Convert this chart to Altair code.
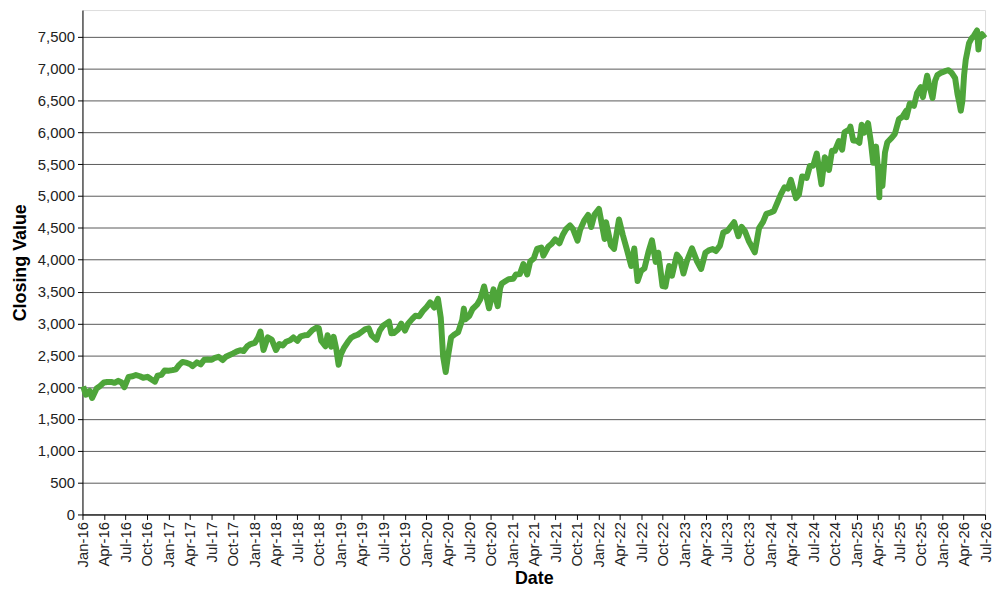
import altair as alt
import pandas as pd

dates = [
    "2016-01-04", "2016-01-15", "2016-02-01", "2016-02-11", "2016-03-01", "2016-03-15",
    "2016-04-01", "2016-04-15", "2016-05-02", "2016-05-16", "2016-06-01", "2016-06-15",
    "2016-06-27", "2016-07-15", "2016-08-01", "2016-08-15", "2016-09-01", "2016-09-15",
    "2016-10-03", "2016-10-17", "2016-11-04", "2016-11-15", "2016-12-01", "2016-12-15",
    "2017-01-03", "2017-01-17", "2017-02-01", "2017-02-15", "2017-03-01", "2017-03-15",
    "2017-04-03", "2017-04-13", "2017-05-01", "2017-05-17", "2017-06-01", "2017-06-15",
    "2017-07-03", "2017-07-17", "2017-08-01", "2017-08-18", "2017-09-01", "2017-09-15",
    "2017-10-02", "2017-10-16", "2017-11-01", "2017-11-15", "2017-12-01", "2017-12-15",
    "2018-01-02", "2018-01-16", "2018-01-26", "2018-02-08", "2018-02-26", "2018-03-15",
    "2018-04-02", "2018-04-16", "2018-05-01", "2018-05-15", "2018-06-01", "2018-06-15",
    "2018-07-02", "2018-07-16", "2018-08-01", "2018-08-15", "2018-09-04", "2018-09-20",
    "2018-10-01", "2018-10-11", "2018-10-29", "2018-11-07", "2018-11-23", "2018-12-03",
    "2018-12-14", "2018-12-24", "2019-01-02", "2019-01-15", "2019-02-01", "2019-02-15",
    "2019-03-01", "2019-03-15", "2019-04-01", "2019-04-15", "2019-05-01", "2019-05-13",
    "2019-06-03", "2019-06-17", "2019-07-01", "2019-07-26", "2019-08-05", "2019-08-15",
    "2019-09-03", "2019-09-16", "2019-10-02", "2019-10-15", "2019-11-01", "2019-11-15",
    "2019-12-02", "2019-12-16", "2020-01-02", "2020-01-17", "2020-02-03", "2020-02-19",
    "2020-03-02", "2020-03-12", "2020-03-23", "2020-04-01", "2020-04-15", "2020-05-01",
    "2020-05-15", "2020-06-01", "2020-06-08", "2020-06-15", "2020-07-01", "2020-07-15",
    "2020-08-03", "2020-08-17", "2020-09-02", "2020-09-23", "2020-10-12", "2020-10-30",
    "2020-11-09", "2020-11-16", "2020-12-01", "2020-12-15", "2021-01-04", "2021-01-15",
    "2021-02-01", "2021-02-16", "2021-03-04", "2021-03-17", "2021-04-01", "2021-04-15",
    "2021-05-03", "2021-05-12", "2021-06-01", "2021-06-15", "2021-07-01", "2021-07-19",
    "2021-08-02", "2021-08-16", "2021-09-02", "2021-09-15", "2021-10-04", "2021-10-15",
    "2021-11-01", "2021-11-18", "2021-12-01", "2021-12-15", "2022-01-03", "2022-01-27",
    "2022-02-02", "2022-02-23", "2022-03-08", "2022-03-29", "2022-04-14", "2022-05-02",
    "2022-05-20", "2022-06-02", "2022-06-16", "2022-07-01", "2022-07-15", "2022-08-01",
    "2022-08-16", "2022-09-01", "2022-09-12", "2022-09-30", "2022-10-12", "2022-10-28",
    "2022-11-09", "2022-11-30", "2022-12-13", "2022-12-28", "2023-01-12", "2023-02-02",
    "2023-02-24", "2023-03-13", "2023-03-31", "2023-04-17", "2023-05-01", "2023-05-15",
    "2023-06-01", "2023-06-15", "2023-07-03", "2023-07-31", "2023-08-18", "2023-09-01",
    "2023-09-15", "2023-10-02", "2023-10-27", "2023-11-14", "2023-12-01", "2023-12-15",
    "2024-01-02", "2024-01-16", "2024-02-01", "2024-02-15", "2024-03-01", "2024-03-15",
    "2024-03-28", "2024-04-19", "2024-05-01", "2024-05-15", "2024-06-03", "2024-06-17",
    "2024-07-01", "2024-07-16", "2024-08-05", "2024-08-19", "2024-09-03", "2024-09-06",
    "2024-09-19", "2024-10-01", "2024-10-18", "2024-11-01", "2024-11-11", "2024-12-02",
    "2024-12-06", "2024-12-18", "2025-01-02", "2025-01-13", "2025-01-23", "2025-02-03",
    "2025-02-19", "2025-03-03", "2025-03-13", "2025-03-25", "2025-04-03", "2025-04-08",
    "2025-04-09", "2025-04-21", "2025-05-02", "2025-05-12", "2025-05-30", "2025-06-13",
    "2025-06-30", "2025-07-15", "2025-07-31", "2025-08-01", "2025-08-15", "2025-09-02",
    "2025-09-15", "2025-10-01", "2025-10-10", "2025-10-28", "2025-11-04", "2025-11-20",
    "2025-12-01", "2025-12-11", "2025-12-24", "2026-01-12", "2026-01-27", "2026-02-10",
    "2026-02-24", "2026-03-06", "2026-03-13", "2026-03-20", "2026-03-27", "2026-04-03",
    "2026-04-10", "2026-04-24", "2026-05-04", "2026-05-15", "2026-05-28", "2026-06-03",
    "2026-06-08", "2026-06-18", "2026-06-30",
]

closes = [
    2012, 1880, 1939, 1829, 1978, 2015,
    2072, 2080, 2081, 2066, 2099, 2072,
    2000, 2161, 2170, 2190, 2170, 2147,
    2161, 2126, 2085, 2180, 2191, 2262,
    2258, 2267, 2279, 2349, 2396, 2385,
    2359, 2329, 2388, 2357, 2430, 2432,
    2429, 2460, 2476, 2425, 2476, 2500,
    2529, 2557, 2579, 2565, 2642, 2676,
    2695, 2776, 2873, 2581, 2780, 2747,
    2582, 2677, 2655, 2711, 2735, 2780,
    2726, 2798, 2813, 2818, 2896, 2931,
    2924, 2728, 2641, 2814, 2633, 2790,
    2600, 2351, 2510, 2610, 2707, 2775,
    2804, 2822, 2867, 2905, 2924, 2812,
    2744, 2889, 2964, 3026, 2844, 2848,
    2906, 2997, 2887, 2995, 3067, 3120,
    3113, 3191, 3258, 3330, 3249, 3386,
    3090, 2480, 2237, 2470, 2783, 2831,
    2863, 3055, 3232, 3066, 3115, 3226,
    3294, 3381, 3580, 3237, 3534, 3270,
    3550, 3627, 3662, 3694, 3700, 3768,
    3774, 3932, 3768, 3974, 4020, 4170,
    4192, 4063, 4202, 4246, 4320, 4258,
    4387, 4479, 4537, 4480, 4300, 4471,
    4613, 4704, 4513, 4709, 4797, 4326,
    4589, 4226, 4170, 4632, 4393, 4155,
    3901, 4176, 3667, 3825, 3863, 4118,
    4305, 3966, 4110, 3586, 3577, 3901,
    3749, 4080, 4019, 3783, 3983, 4179,
    3970, 3855, 4109, 4151, 4167, 4136,
    4221, 4426, 4455, 4589, 4370, 4515,
    4450, 4288, 4117, 4496, 4595, 4719,
    4742, 4766, 4906, 5029, 5137, 5117,
    5254, 4967, 5018, 5308, 5283, 5473,
    5475, 5667, 5186, 5608, 5528, 5408,
    5713, 5709, 5864, 5728, 6001, 6047,
    6090, 5872, 5869, 5836, 6119, 5994,
    6144, 5850, 5521, 5776, 5396, 4982,
    5457, 5158, 5686, 5844, 5912, 5977,
    6205, 6244, 6339, 6238, 6449, 6415,
    6615, 6711, 6552, 6890, 6771, 6538,
    6812, 6901, 6932, 6960, 6975, 6930,
    6850, 6600, 6480, 6340, 6500, 6900,
    7140, 7400, 7470, 7520, 7600, 7300,
    7500, 7540, 7480,
]

tick_years = list(range(2016, 2027))
tick_months = [1, 4, 7, 10]
y_ticks = list(range(0, 8000, 500))

df = pd.DataFrame({"Date": [d + "T00:00:00" for d in dates], "Close": closes})

x_ticks = [alt.DateTime(year=y, month=m, date=1)
           for y in tick_years for m in tick_months
           if not (y == 2026 and m > 7)]

font = "Liberation Sans"

chart = alt.Chart(df).mark_line(
    color="#4ea53a", strokeWidth=6, strokeJoin="round"
).encode(
    x=alt.X(
        "Date:T",
        title="Date",
        scale=alt.Scale(domain=[alt.DateTime(year=2016, month=1, date=1),
                                alt.DateTime(year=2026, month=7, date=1)]),
        axis=alt.Axis(values=x_ticks, format="%b-%y", labelAngle=-90,
                      grid=False, labelFontSize=15, labelFont=font,
                      labelColor="#222", tickSize=5, tickColor="#000",
                      domainColor="#000", labelPadding=2, labelOverlap=False,
                      labelBound=False, labelFlush=False,
                      titleFont=font, titleFontSize=18, titleFontWeight="bold",
                      titleColor="#000", titlePadding=3),
    ),
    y=alt.Y(
        "Close:Q",
        title="Closing Value",
        scale=alt.Scale(domain=[0, 7920], nice=False, zero=True),
        axis=alt.Axis(values=y_ticks, format=",.0f", grid=True, gridColor="#5a5a5a",
                      gridWidth=1, labelFontSize=15, labelFont=font,
                      labelColor="#222", tickSize=5, tickColor="#000",
                      domainColor="#000", labelPadding=3, labelOverlap=False,
                      titleFont=font, titleFontSize=18, titleFontWeight="bold",
                      titleColor="#000", titlePadding=8),
    ),
).properties(
    width=909,
    height=508,
    padding={"left": 75, "top": 0, "right": 7, "bottom": 74},
    autosize=alt.AutoSizeParams(type="none"),
).configure_view(
    fill="#ebebeb", stroke="#333", strokeWidth=1
).configure(background="white")

chart.save("out.html", embed_options={"renderer": "svg", "actions": False})
